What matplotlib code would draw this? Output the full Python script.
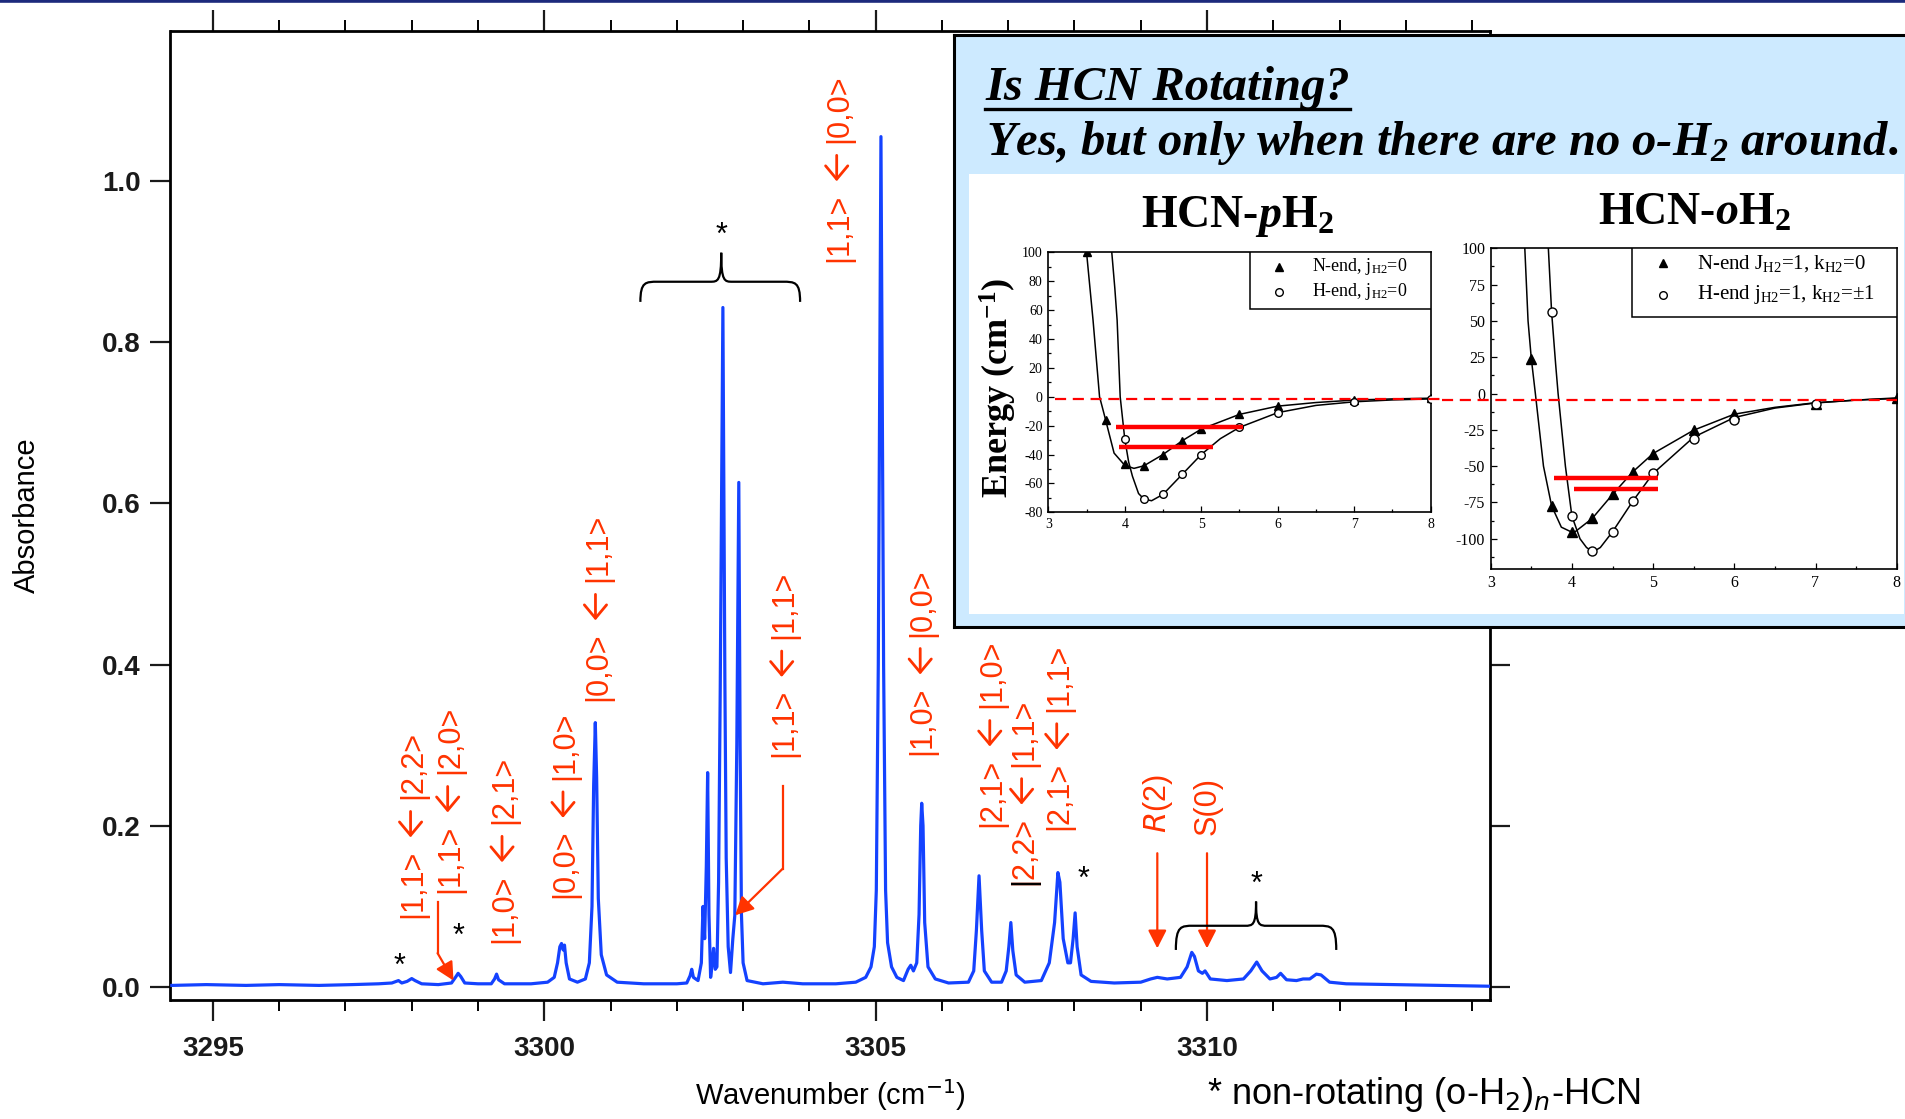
import matplotlib
matplotlib.use("Agg")
import matplotlib.pyplot as plt
from matplotlib.patches import Rectangle, PathPatch
from matplotlib.path import Path
from matplotlib.lines import Line2D
from matplotlib.ticker import MultipleLocator

W, H = 1906, 1119

plt.rcParams['font.family'] = ['Liberation Sans', 'DejaVu Sans']
plt.rcParams['axes.unicode_minus'] = False
plt.rcParams['mathtext.fontset'] = 'custom'
plt.rcParams['mathtext.rm'] = 'Liberation Serif'
plt.rcParams['mathtext.it'] = 'Liberation Serif:italic'
plt.rcParams['mathtext.bf'] = 'Liberation Serif:bold'
HAS_BFIT = 'mathtext.bfit' in plt.rcParams
if HAS_BFIT:
    plt.rcParams['mathtext.bfit'] = 'Liberation Serif:italic:bold'

# ---------------- main spectrum data ----------------
wavenumber = [
    3294.38, 3294.9, 3295.5, 3296.0, 3296.6, 3297.1, 3297.5, 3297.70, 3297.80, 3297.85,
    3297.93, 3298.00, 3298.05, 3298.15, 3298.40, 3298.60, 3298.66, 3298.70, 3298.74, 3298.80,
    3299.00, 3299.20, 3299.25, 3299.28, 3299.31, 3299.40, 3299.80, 3300.05, 3300.15, 3300.20,
    3300.235, 3300.26, 3300.285, 3300.305, 3300.33, 3300.38, 3300.50, 3300.62, 3300.68, 3300.72,
    3300.745, 3300.77, 3300.79, 3300.815, 3300.86, 3300.94, 3301.10, 3301.5, 3302.0, 3302.15,
    3302.20, 3302.225, 3302.25, 3302.32, 3302.37, 3302.395, 3302.42, 3302.445, 3302.465, 3302.485,
    3302.51, 3302.535, 3302.555, 3302.58, 3302.605, 3302.63, 3302.655, 3302.695, 3302.725, 3302.745,
    3302.775, 3302.81, 3302.845, 3302.875, 3302.905, 3302.935, 3302.955, 3302.975, 3303.00, 3303.06,
    3303.30, 3303.60, 3303.90, 3304.40, 3304.70, 3304.85, 3304.93, 3304.98, 3305.01, 3305.04,
    3305.065, 3305.08, 3305.095, 3305.12, 3305.15, 3305.18, 3305.24, 3305.32, 3305.42, 3305.49,
    3305.53, 3305.57, 3305.62, 3305.655, 3305.68, 3305.695, 3305.715, 3305.74, 3305.79, 3305.90,
    3306.10, 3306.40, 3306.48, 3306.52, 3306.56, 3306.60, 3306.64, 3306.75, 3306.90, 3306.97,
    3307.01, 3307.04, 3307.07, 3307.12, 3307.25, 3307.50, 3307.62, 3307.70, 3307.75, 3307.78,
    3307.83, 3307.90, 3307.94, 3307.98, 3308.01, 3308.04, 3308.10, 3308.25, 3308.60, 3309.00,
    3309.15, 3309.25, 3309.40, 3309.60, 3309.70, 3309.77, 3309.81, 3309.87, 3309.93, 3309.97,
    3310.05, 3310.30, 3310.55, 3310.66, 3310.75, 3310.83, 3310.95, 3311.05, 3311.11, 3311.20,
    3311.35, 3311.45, 3311.55, 3311.65, 3311.72, 3311.85, 3312.10, 3312.80, 3313.50, 3314.25,
]
absorbance = [
    0.002, 0.003, 0.002, 0.003, 0.002, 0.003, 0.004, 0.005, 0.008, 0.005,
    0.007, 0.0105, 0.008, 0.004, 0.003, 0.005, 0.012, 0.017, 0.013, 0.005,
    0.004, 0.004, 0.010, 0.016, 0.009, 0.004, 0.004, 0.006, 0.012, 0.030,
    0.050, 0.054, 0.046, 0.052, 0.030, 0.010, 0.006, 0.010, 0.030, 0.100,
    0.250, 0.328, 0.260, 0.110, 0.040, 0.015, 0.006, 0.004, 0.004, 0.005,
    0.014, 0.022, 0.012, 0.008, 0.030, 0.100, 0.060, 0.150, 0.266, 0.090,
    0.012, 0.030, 0.048, 0.022, 0.025, 0.130, 0.370, 0.843, 0.380, 0.160,
    0.050, 0.018, 0.060, 0.089, 0.300, 0.626, 0.300, 0.090, 0.030, 0.008,
    0.004, 0.006, 0.004, 0.004, 0.006, 0.012, 0.025, 0.050, 0.120, 0.400,
    0.800, 1.055, 0.800, 0.400, 0.120, 0.055, 0.025, 0.012, 0.008, 0.022,
    0.027, 0.020, 0.030, 0.090, 0.200, 0.228, 0.200, 0.080, 0.025, 0.010,
    0.005, 0.006, 0.020, 0.070, 0.138, 0.070, 0.020, 0.006, 0.006, 0.020,
    0.050, 0.080, 0.045, 0.015, 0.006, 0.008, 0.030, 0.080, 0.142, 0.130,
    0.060, 0.030, 0.030, 0.060, 0.092, 0.050, 0.015, 0.007, 0.005, 0.006,
    0.010, 0.012, 0.010, 0.012, 0.025, 0.043, 0.038, 0.020, 0.017, 0.020,
    0.010, 0.008, 0.010, 0.020, 0.031, 0.020, 0.010, 0.012, 0.017, 0.009,
    0.008, 0.010, 0.010, 0.016, 0.015, 0.006, 0.004, 0.003, 0.002, 0.001,
]

x_ticks = [3295, 3300, 3305, 3310]
y_ticks = [0.0, 0.2, 0.4, 0.6, 0.8, 1.0]

# transition labels (rotated, red)
label_text = [
    "|1,1> \u2190 |2,2>", "|1,1> \u2190 |2,0>", "|1,0> \u2190 |2,1>", "|0,0> \u2190 |1,0>",
    "|0,0> \u2190 |1,1>", "|1,1> \u2190 |1,1>", "|1,1> \u2190 |0,0>", "|1,0> \u2190 |0,0>",
    "|2,1> \u2190 |1,0>", "|2,2> \u2190 |1,1>", "|2,1> \u2190 |1,1>", r"$R$(2)", "S(0)",
]
label_x = [3298.02, 3298.58, 3299.40, 3300.32, 3300.81, 3303.62, 3304.45, 3305.71,
           3306.76, 3307.24, 3307.77, 3309.26, 3310.01]
label_y = [0.086, 0.117, 0.055, 0.110, 0.355, 0.285, 0.900, 0.288,
           0.199, 0.127, 0.195, 0.191, 0.189]

# bent pointer lines: (x list, y list) ending at the arrow tip
pointer_x = [[3298.39, 3298.39, 3298.63], [3303.60, 3303.60, 3302.88],
             [3309.25, 3309.25], [3310.00, 3310.00]]
pointer_y = [[0.106, 0.042, 0.008], [0.249, 0.147, 0.089],
             [0.166, 0.048], [0.166, 0.048]]

# asterisks for non-rotating clusters
star_x = [3297.81, 3298.70, 3308.13, 3310.74, 3302.68]
star_y = [0.033, 0.071, 0.141, 0.135, 0.941]

# curly braces
brace_x0 = [3301.45, 3309.53]
brace_x1 = [3303.86, 3311.95]
brace_xm = [3302.67, 3310.74]
brace_yend = [0.850, 0.046]
brace_yline = [0.875, 0.076]
brace_ytip = [0.911, 0.106]

# ---------------- inset panel data ----------------
# HCN-pH2
p_n_r = [3.5, 3.75, 4.0, 4.25, 4.5, 4.75, 5.0, 5.5, 6.0, 7.0, 8.0]
p_n_e = [100, -16.2, -46.8, -47.8, -40.0, -30.5, -22.4, -12.2, -6.5, -2.3, -1.2]
p_h_r = [4.0, 4.25, 4.5, 4.75, 5.0, 5.5, 6.0, 7.0, 8.0]
p_h_e = [-29.3, -70.8, -67.6, -53.8, -40.0, -21.2, -11.0, -3.9, -1.6]
p_ncurve_r = [3.50, 3.585, 3.67, 3.71, 3.75, 3.86, 4.00, 4.12, 4.25, 4.50, 4.75, 5.00,
              5.50, 6.00, 6.50, 7.00, 7.50, 8.00]
p_ncurve_e = [100, 53, 0, -8, -16.2, -39, -47.5, -49.6, -47.8, -40.0, -30.5, -22.4,
              -12.2, -6.5, -4.0, -2.3, -1.5, -1.0]
p_hcurve_r = [3.83, 3.87, 3.90, 3.94, 4.00, 4.05, 4.10, 4.18, 4.25, 4.35, 4.50, 4.75,
              5.00, 5.25, 5.50, 6.00, 6.50, 7.00, 7.50, 8.00]
p_hcurve_e = [100, 75, 53, 0, -29.3, -45, -55, -67, -70.8, -72, -67.6, -53.8,
              -40.0, -29, -21.2, -11.0, -6.0, -3.5, -2.2, -1.5]
p_level_e = [-21.0, -35.0]
p_level_r0 = [3.88, 3.93]
p_level_r1 = [5.54, 5.16]
p_dissoc = -1.8

# HCN-oH2
o_n_r = [3.5, 3.75, 4.0, 4.25, 4.5, 4.75, 5.0, 5.5, 6.0, 7.0, 8.0]
o_n_e = [24.1, -77.3, -95.6, -86.0, -69.5, -53.9, -41.3, -25.2, -14.2, -7.3, -3.4]
o_h_r = [3.75, 4.0, 4.25, 4.5, 4.75, 5.0, 5.5, 6.0, 7.0]
o_h_e = [56.2, -84.4, -108.5, -95.2, -74.1, -55.0, -31.4, -18.3, -6.9]
o_ncurve_r = [3.42, 3.46, 3.50, 3.55, 3.65, 3.75, 3.87, 4.02, 4.25, 4.50, 4.75, 5.00,
              5.50, 6.00, 6.50, 7.00, 7.50, 8.00]
o_ncurve_e = [100, 50, 24.1, 0, -50, -77.3, -92, -96, -86.0, -69.5, -53.9, -41.3,
              -25.2, -14.2, -9.5, -6.3, -4.5, -3.4]
o_hcurve_r = [3.71, 3.75, 3.80, 3.83, 3.92, 4.00, 4.10, 4.18, 4.26, 4.35, 4.50, 4.75,
              5.00, 5.50, 6.00, 6.50, 7.00, 7.50, 8.00]
o_hcurve_e = [100, 56.2, 20, 0, -50, -84.4, -100, -106, -109, -106, -95.2, -74.1,
              -55.0, -30.0, -16.5, -10.0, -6.5, -4.5, -3.0]
o_level_e = [-58.0, -65.6]
o_level_r0 = [3.78, 4.03]
o_level_r1 = [5.06, 5.06]
o_dissoc = -4.1

BLUE = '#1442ff'
RED = '#ff3300'
SERIF = 'Liberation Serif'


def px_rect(l, t, r, b):
    return [l / W, 1 - b / H, (r - l) / W, (b - t) / H]


fig = plt.figure(figsize=(W / 100, H / 100), dpi=100)
fig.patch.set_facecolor('white')

# top navy rule
fig.add_artist(Line2D([0, 1], [1 - 1.2 / H, 1 - 1.2 / H], transform=fig.transFigure,
                      color='#1c2a7c', lw=2.6))

# ---------------- main axes ----------------
ax = fig.add_axes(px_rect(170.5, 31.3, 1490, 1000), zorder=0)
ax.plot(wavenumber, absorbance, color=BLUE, lw=2.3, solid_joinstyle='round', zorder=3)
ax.set_xlim(3294.36, 3314.27)
ax.set_ylim(-0.0161, 1.1857)
ax.set_xticks(x_ticks)
ax.set_xticklabels([str(t) for t in x_ticks])
ax.xaxis.set_minor_locator(MultipleLocator(1))
ax.set_yticks(y_ticks)
ax.set_yticklabels([f'{v:.1f}' for v in y_ticks])
ax.tick_params(axis='x', which='major', direction='out', length=15, width=1.6,
               top=True, bottom=True, labelsize=20, pad=11, colors='#1a1a1a')
ax.tick_params(axis='x', which='minor', direction='out', length=8, width=1.4,
               top=True, bottom=True)
ax.tick_params(axis='y', which='major', direction='out', length=14.5, width=1.6,
               left=True, right=True, labelsize=20, pad=7, colors='#1a1a1a')
for lbl in ax.get_xticklabels() + ax.get_yticklabels():
    lbl.set_fontweight('bold')
for s in ax.spines.values():
    s.set_linewidth(2.0)

ax.set_ylabel('Absorbance', fontsize=21)
ax.yaxis.set_label_coords((27 - 170.5) / 1319.5, 0.5)
ax.yaxis.label.set_va('center')
ax.set_xlabel(r'Wavenumber (cm$^{-1}$)', fontsize=21, math_fontfamily='dejavusans')
ax.xaxis.set_label_coords(0.5, (1000 - 1095) / 968.7)
ax.xaxis.label.set_va('center')

renderer = fig.canvas.get_renderer()
inv = ax.transData.inverted()
GAP, ALEN, XSHIFT = 12, 26, -2.5
lab_kw = dict(rotation=90, ha='center', va='bottom', color=RED, fontsize=22,
              family=['Liberation Sans', 'DejaVu Sans'], math_fontfamily='dejavusans', zorder=4)
for s, x, y in zip(label_text, label_x, label_y):
    if ' \u2190 ' not in s:
        ax.text(x, y, s, **lab_kw)
        continue
    left, right = s.split(' \u2190 ')
    tA = ax.text(x, y, left, **lab_kw)
    bb = tA.get_window_extent(renderer)
    xd, _ = ax.transData.transform((x, y))
    tip = bb.y1 + GAP
    tail = tip + ALEN
    start_b = tail + GAP
    xa = inv.transform((xd + XSHIFT, tip))[0]
    y_tip = inv.transform((xd, tip))[1]
    y_tail = inv.transform((xd, tail))[1]
    y_b = inv.transform((xd, start_b))[1]
    ax.annotate('', xy=(xa, y_tip), xytext=(xa, y_tail),
                arrowprops=dict(arrowstyle='->,head_length=0.48,head_width=0.4', color=RED,
                                lw=2.0, shrinkA=0, shrinkB=0, mutation_scale=20), zorder=4)
    ax.text(x, y_b, right, **lab_kw)

# the first bar of the |2,2> label is black in the original
ax.text(label_x[9], label_y[9], '|', rotation=90, ha='center', va='bottom', color='black',
        fontsize=22, family=['Liberation Sans', 'DejaVu Sans'], zorder=5)

for px, py in zip(pointer_x, pointer_y):
    if len(px) > 2:
        ax.plot(px[:-1], py[:-1], color=RED, lw=1.6, zorder=4)
    ax.annotate('', xy=(px[-1], py[-1]), xytext=(px[-2], py[-2]),
                arrowprops=dict(arrowstyle='-|>,head_length=0.55,head_width=0.28',
                                color=RED, lw=1.6, shrinkA=0, shrinkB=0, mutation_scale=20),
                zorder=4)

for x, y in zip(star_x, star_y):
    ax.annotate('*', xy=(x, y), xytext=(0, -5), textcoords='offset points', ha='center',
                va='center', fontsize=22, color='black', zorder=5)


def draw_brace(x0, x1, xm, yend, yline, ytip):
    re_ = 0.11 * (x1 - x0)
    rt = 0.07 * (x1 - x0)
    verts = [(x0, yend), (x0, yline), (x0 + 0.3 * re_, yline), (x0 + re_, yline),
             (xm - rt, yline),
             (xm - 0.3 * rt, yline), (xm, yline), (xm, ytip),
             (xm, yline), (xm + 0.3 * rt, yline), (xm + rt, yline),
             (x1 - re_, yline),
             (x1 - 0.3 * re_, yline), (x1, yline), (x1, yend)]
    codes = [Path.MOVETO, Path.CURVE4, Path.CURVE4, Path.CURVE4,
             Path.LINETO,
             Path.CURVE4, Path.CURVE4, Path.CURVE4,
             Path.CURVE4, Path.CURVE4, Path.CURVE4,
             Path.LINETO,
             Path.CURVE4, Path.CURVE4, Path.CURVE4]
    ax.add_patch(PathPatch(Path(verts, codes), fill=False, lw=1.6, ec='black', zorder=4))


for b in zip(brace_x0, brace_x1, brace_xm, brace_yend, brace_yline, brace_ytip):
    draw_brace(*b)

fig.text(1207 / W, 1 - 1095 / H, r'* non-rotating (o-H$_2$)$_n$-HCN', fontsize=26,
         ha='left', va='center', math_fontfamily='dejavusans')

# ---------------- inset ----------------
ax_box = fig.add_axes(px_rect(954, 35, 1930, 627), zorder=5)
ax_box.set_facecolor('#cdeaff')
ax_box.set_xticks([])
ax_box.set_yticks([])
for s in ax_box.spines.values():
    s.set_linewidth(2.2)

ax_white = fig.add_axes(px_rect(969, 174, 1904, 614), zorder=6)
ax_white.set_facecolor('white')
ax_white.set_xticks([])
ax_white.set_yticks([])
for s in ax_white.spines.values():
    s.set_visible(False)

bfit_p = r'$\mathbfit{p}$' if HAS_BFIT else r'$\mathit{p}$'
bfit_o = r'$\mathbfit{o}$' if HAS_BFIT else r'$\mathit{o}$'
bfit_2 = r'$_{\mathbfit{2}}$' if HAS_BFIT else r'$_{\mathbf{2}}$'

t1 = fig.text(985 / W, 1 - 100 / H, 'Is HCN Rotating?', fontsize=35, family=SERIF,
              weight='bold', style='italic', ha='left', va='baseline', zorder=9)
fig.text(986 / W, 1 - 155 / H, 'Yes, but only when there are no o-H' + bfit_2 + ' around\u2026',
         fontsize=35, family=SERIF, weight='bold', style='italic', ha='left', va='baseline',
         zorder=9)
fig.text(1237 / W, 1 - 227 / H, 'HCN-' + bfit_p + r'H$_{\mathbf{2}}$', fontsize=33, family=SERIF,
         weight='bold', ha='center', va='baseline', zorder=9)
fig.text(1694 / W, 1 - 225 / H, 'HCN-' + bfit_o + r'H$_{\mathbf{2}}$', fontsize=33, family=SERIF,
         weight='bold', ha='center', va='baseline', zorder=9)

bb = t1.get_window_extent(renderer)
fig.add_artist(Line2D([bb.x0 / W, bb.x1 / W], [1 - 109 / H, 1 - 109 / H],
                      transform=fig.transFigure, color='black', lw=2.4, zorder=9))


def style_panel(a, labelsize):
    a.tick_params(which='both', direction='in', top=False, right=False, labelsize=labelsize,
                  width=0.9)
    a.tick_params(which='major', length=4.5, pad=4)
    a.tick_params(which='minor', length=2.5)
    for lbl in a.get_xticklabels() + a.get_yticklabels():
        lbl.set_family(SERIF)
    for s in a.spines.values():
        s.set_linewidth(1.2)
    a.set_facecolor('white')


def draw_legend(a, x0, y0, mx, ty, tx, labels, fs):
    a.add_patch(Rectangle((x0, y0), 1 - x0, 1 - y0, transform=a.transAxes, fc='white',
                          ec='black', lw=1.1, zorder=5))
    a.plot([mx], [ty[0]], marker='^', ms=6, color='black', ls='none',
           transform=a.transAxes, zorder=6)
    a.plot([mx], [ty[1]], marker='o', ms=5.5, mfc='white', mec='black', mew=1.0, ls='none',
           transform=a.transAxes, zorder=6)
    for yy, lab in zip(ty, labels):
        a.text(tx, yy, lab, transform=a.transAxes, va='center', ha='left', fontsize=fs,
               family=SERIF, zorder=6)


# panel 1: HCN-pH2
ax1 = fig.add_axes(px_rect(1048.3, 252.3, 1430.7, 512.3), zorder=7)
ax1.plot(p_ncurve_r, p_ncurve_e, color='black', lw=1.1, zorder=3)
ax1.plot(p_hcurve_r, p_hcurve_e, color='black', lw=1.1, zorder=3)
ax1.plot(p_n_r, p_n_e, ls='none', marker='^', ms=6, color='black', zorder=4)
ax1.plot(p_h_r, p_h_e, ls='none', marker='o', ms=5.5, mfc='white', mec='black', mew=1.0,
         zorder=4)
ax1.plot([3.09, 8.12], [p_dissoc, p_dissoc], color='red', lw=1.6, ls=(0, (5, 3)),
         clip_on=False, zorder=5)
for e, r0, r1 in zip(p_level_e, p_level_r0, p_level_r1):
    ax1.plot([r0, r1], [e, e], color='red', lw=3.2, solid_capstyle='butt', zorder=5)
ax1.set_xlim(3, 8)
ax1.set_ylim(-80, 100)
ax1.set_xticks([3, 4, 5, 6, 7, 8])
ax1.set_yticks(list(range(-80, 101, 20)))
ax1.xaxis.set_minor_locator(MultipleLocator(0.5))
ax1.yaxis.set_minor_locator(MultipleLocator(10))
style_panel(ax1, 10)
ax1.set_ylabel(r'Energy (cm$^{\mathbf{-1}}$)', fontsize=26, fontweight='bold', family=SERIF)
ax1.yaxis.set_label_coords((998 - 1048.3) / 382.4, (512.3 - 388) / 260)
ax1.yaxis.label.set_va('center')
draw_legend(ax1, 0.527, 0.782, 0.603, [0.945, 0.848], 0.689,
            [r'N-end, j$_{\mathrm{H2}}$=0', r'H-end, j$_{\mathrm{H2}}$=0'], 13)

# panel 2: HCN-oH2
ax2 = fig.add_axes(px_rect(1490.7, 248.3, 1896.7, 569.3), zorder=7)
ax2.plot(o_ncurve_r, o_ncurve_e, color='black', lw=1.1, zorder=3)
ax2.plot(o_hcurve_r, o_hcurve_e, color='black', lw=1.1, zorder=3)
ax2.plot(o_n_r, o_n_e, ls='none', marker='^', ms=7, color='black', zorder=4)
ax2.plot(o_h_r, o_h_e, ls='none', marker='o', ms=6.5, mfc='white', mec='black', mew=1.0,
         zorder=4)
ax2.plot([2.40, 8.0], [o_dissoc, o_dissoc], color='red', lw=1.6, ls=(0, (5, 3)),
         clip_on=False, zorder=5)
for e, r0, r1 in zip(o_level_e, o_level_r0, o_level_r1):
    ax2.plot([r0, r1], [e, e], color='red', lw=3.2, solid_capstyle='butt', zorder=5)
ax2.set_xlim(3, 8)
ax2.set_ylim(-121, 100)
ax2.set_xticks([3, 4, 5, 6, 7, 8])
ax2.set_yticks([-100, -75, -50, -25, 0, 25, 50, 75, 100])
ax2.xaxis.set_minor_locator(MultipleLocator(0.5))
ax2.yaxis.set_minor_locator(MultipleLocator(12.5))
style_panel(ax2, 11.5)
draw_legend(ax2, 0.348, 0.786, 0.425, [0.953, 0.855], 0.507,
            [r'N-end J$_{\mathrm{H2}}$=1, k$_{\mathrm{H2}}$=0',
             r'H-end j$_{\mathrm{H2}}$=1, k$_{\mathrm{H2}}$=$\pm$1'], 15)

fig.savefig('out.png', dpi=100)
